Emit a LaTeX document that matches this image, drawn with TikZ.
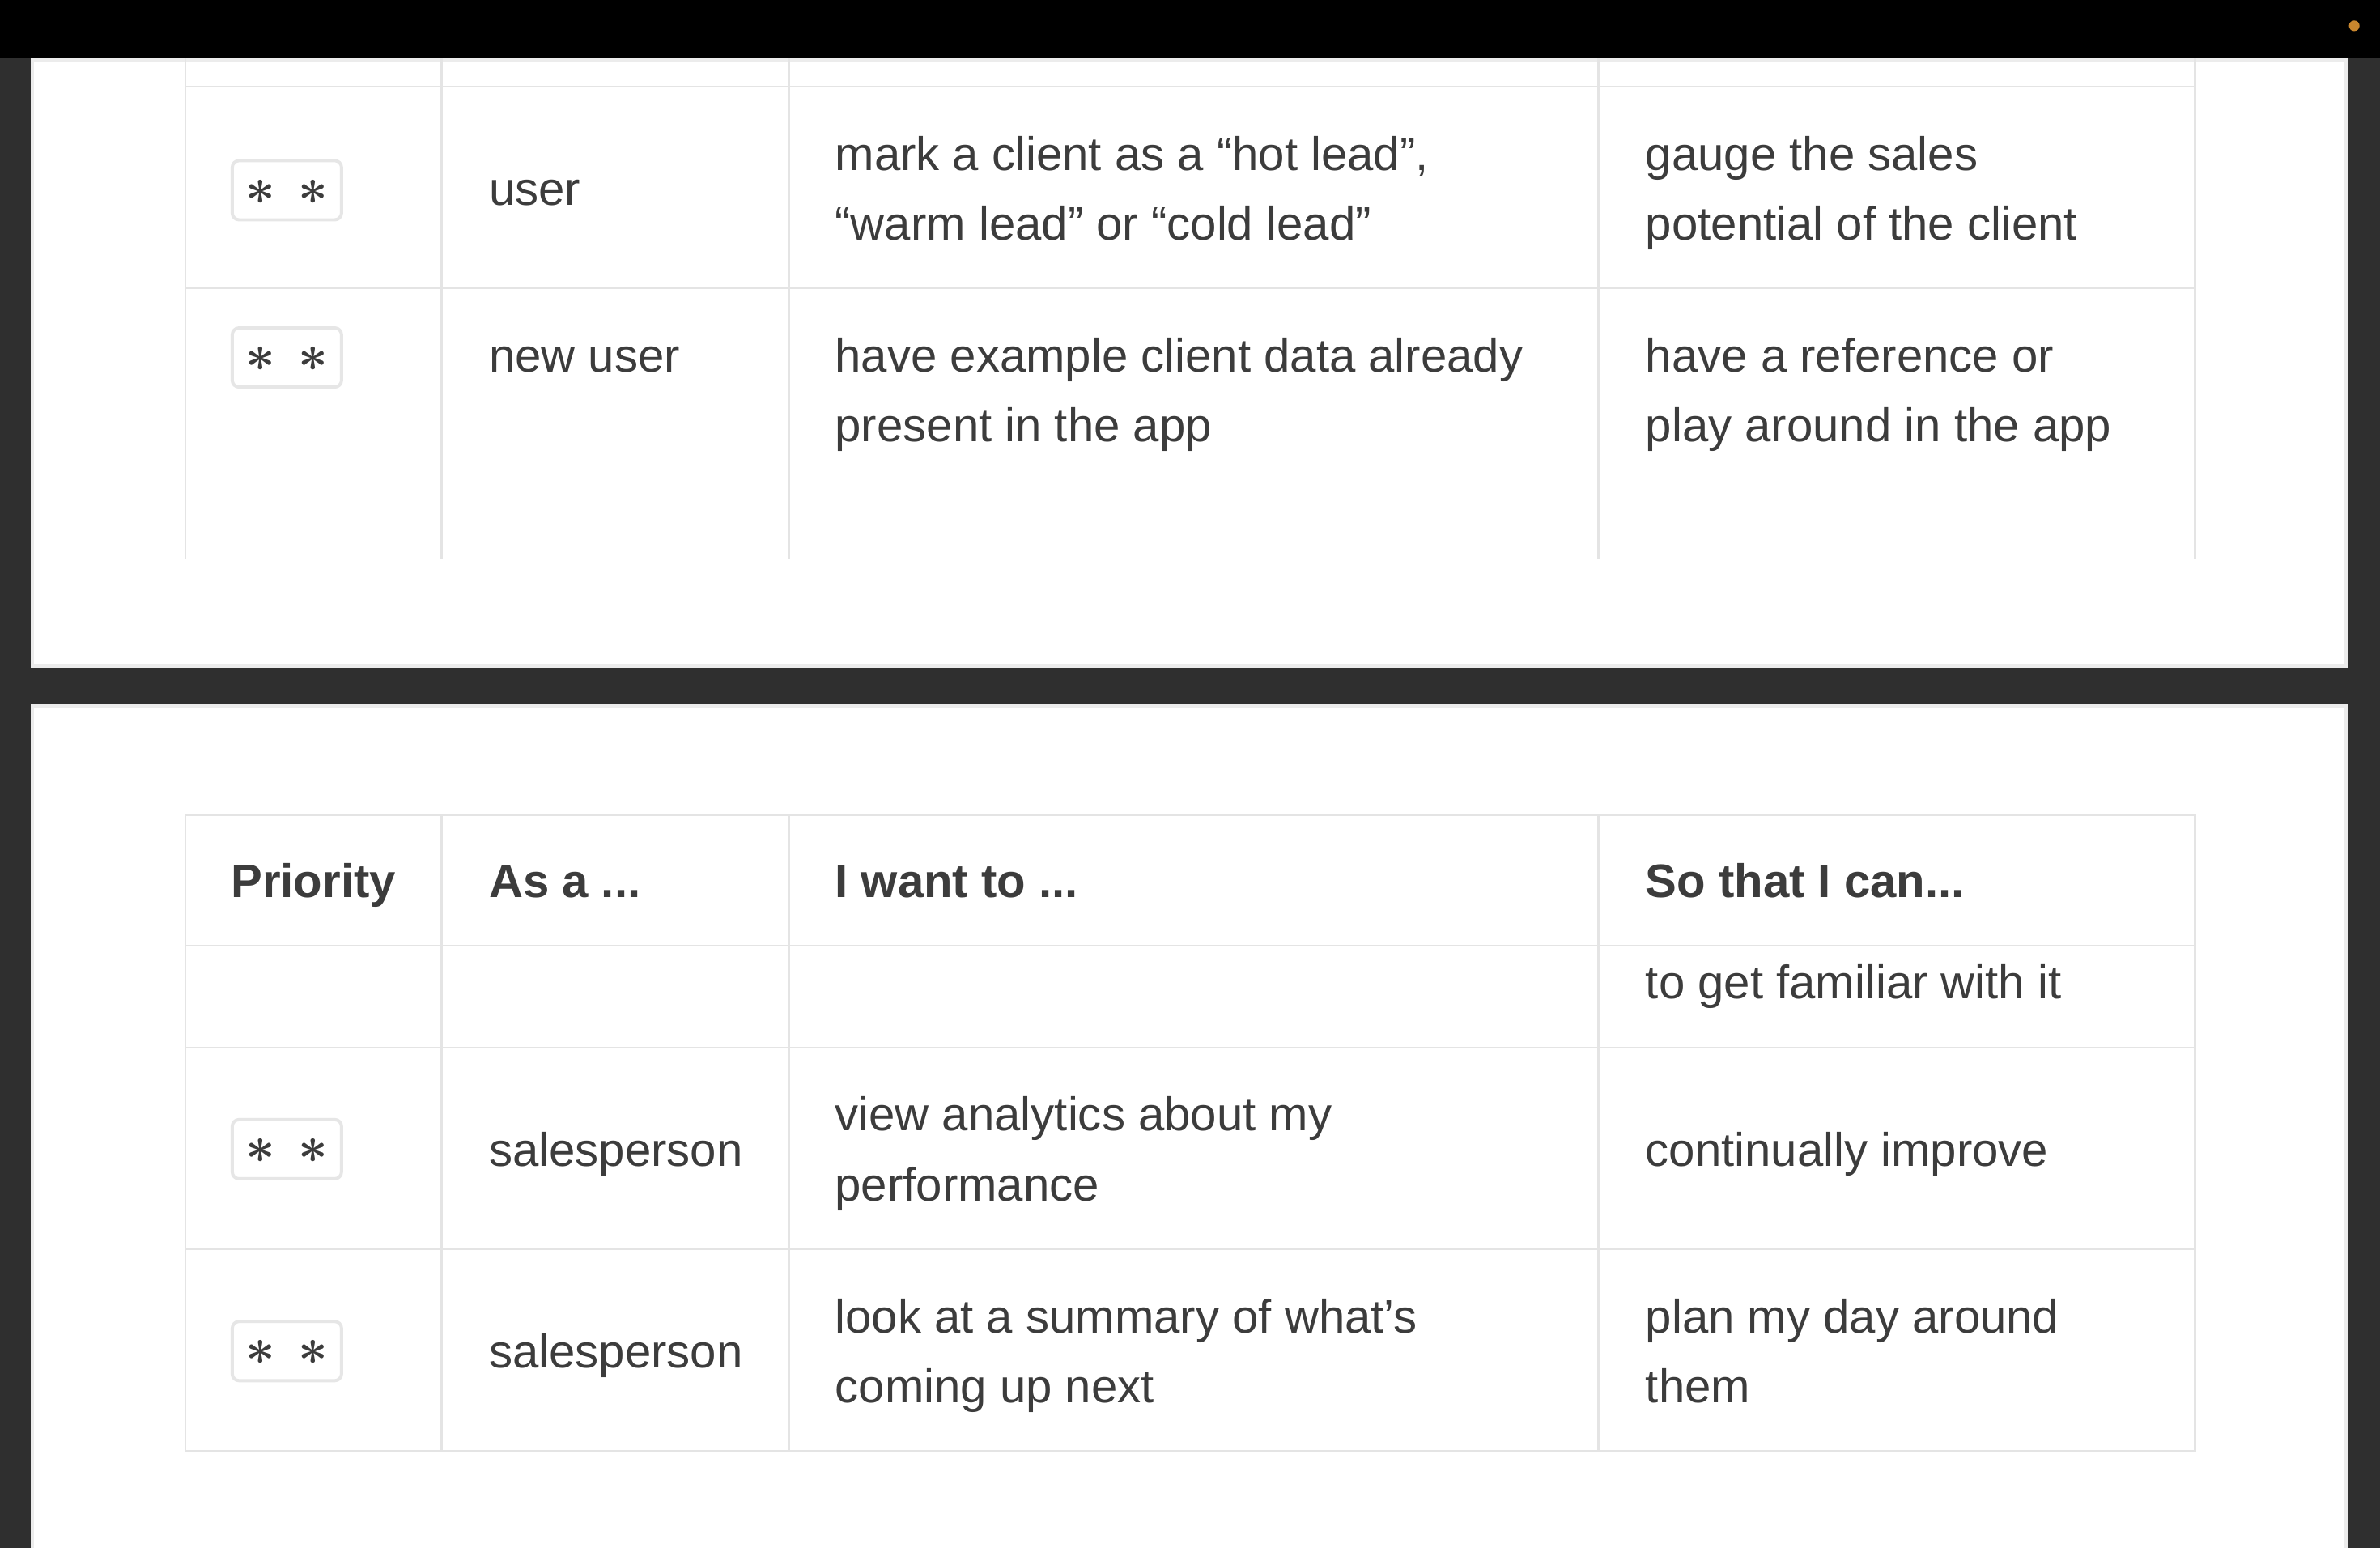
\documentclass[tikz,border=0pt]{standalone}
\usepackage{fontspec}
\setmainfont{Liberation Sans}
\definecolor{topbar}{HTML}{000000}
\definecolor{bgdark}{HTML}{2F2F2F}
\definecolor{cardedge}{HTML}{ECECEC}
\definecolor{grid}{HTML}{E4E4E4}
\definecolor{badgeedge}{HTML}{E6E6E6}
\definecolor{ink}{HTML}{3C3C3C}
\definecolor{dotc}{HTML}{C8862E}
\newcommand{\bigast}{\scalebox{3.4}{\boldmath$\ast$}}
\tikzset{
  cell/.style={anchor=base west, inner sep=0pt, text=ink, font=\fontsize{31}{46}\selectfont},
  head/.style={anchor=base west, inner sep=0pt, text=ink, font=\fontsize{31}{46}\selectfont\bfseries},
  badge/.style={draw=badgeedge, line width=2.1pt, rounded corners=4.5pt, fill=white, minimum width=72pt, minimum height=39pt, inner sep=0pt},
  star/.style={inner sep=0pt, text=ink, font=\fontsize{10}{12}\selectfont},
  gridline/.style={draw=grid, line width=1.3pt},
  card/.style={fill=white, draw=cardedge, line width=2.5pt},
}
\begin{document}
\begin{tikzpicture}[x=1pt, y=-1pt]
\useasboundingbox (0,0) rectangle (1568,1019.7);
% background
\fill[bgdark] (0,0) rectangle (1568,1019.7);
% cards
\path[card] (21.25,39.25) rectangle (1545.75,438.75);
\path[card] (21.25,464.75) rectangle (1545.75,1030);
% top bar
\fill[topbar] (0,0) rectangle (1568,38.4);
\fill[dotc] (1551,17) circle (3.5);

% ---------- top table ----------
\foreach \x in {122,291,520,1053,1446} \draw[gridline] (\x,38.4) -- (\x,368);
\foreach \y in {57,190} \draw[gridline] (122,\y) -- (1446,\y);

\node[badge] (b1) at (189,125.3) {};
\node[star] (b1s1) at (171.7,126.4) {\bigast};
\node[star] (b1s2) at (206.5,126.4) {\bigast};
\node[cell] (r1as) at (322,135) {user};
\node[cell] (r1w1) at (550,112) {mark a client as a “hot lead”,};
\node[cell] (r1w2) at (550,158) {“warm lead” or “cold lead”};
\node[cell] (r1s1) at (1084,112) {gauge the sales};
\node[cell] (r1s2) at (1084,158) {potential of the client};

\node[badge] (b2) at (189,235.5) {};
\node[star] (b2s1) at (171.7,236.6) {\bigast};
\node[star] (b2s2) at (206.5,236.6) {\bigast};
\node[cell] (r2as) at (322,245) {new user};
\node[cell] (r2w1) at (550,245) {have example client data already};
\node[cell] (r2w2) at (550,291) {present in the app};
\node[cell] (r2s1) at (1084,245) {have a reference or};
\node[cell] (r2s2) at (1084,291) {play around in the app};

% ---------- bottom table ----------
\draw[gridline] (122,537) rectangle (1446,956);
\foreach \y in {623,690,823} \draw[gridline] (122,\y) -- (1446,\y);
\foreach \x in {291,520,1053} \draw[gridline] (\x,537) -- (\x,956);

\node[head] (h1) at (152,591) {Priority};
\node[head] (h2) at (322,591) {As a ...};
\node[head] (h3) at (550,591) {I want to ...};
\node[head] (h4) at (1084,591) {So that I can...};

\node[cell] (r3s1) at (1084,658) {to get familiar with it};

\node[badge] (b4) at (189,757) {};
\node[star] (b4s1) at (171.7,758.1) {\bigast};
\node[star] (b4s2) at (206.5,758.1) {\bigast};
\node[cell] (r4as) at (322,768.5) {salesperson};
\node[cell] (r4w1) at (550,745) {view analytics about my};
\node[cell] (r4w2) at (550,791) {performance};
\node[cell] (r4s1) at (1084,768.5) {continually improve};

\node[badge] (b5) at (189,890) {};
\node[star] (b5s1) at (171.7,891.1) {\bigast};
\node[star] (b5s2) at (206.5,891.1) {\bigast};
\node[cell] (r5as) at (322,901) {salesperson};
\node[cell] (r5w1) at (550,878) {look at a summary of what’s};
\node[cell] (r5w2) at (550,924) {coming up next};
\node[cell] (r5s1) at (1084,878) {plan my day around};
\node[cell] (r5s2) at (1084,924) {them};
\end{tikzpicture}
\end{document}
